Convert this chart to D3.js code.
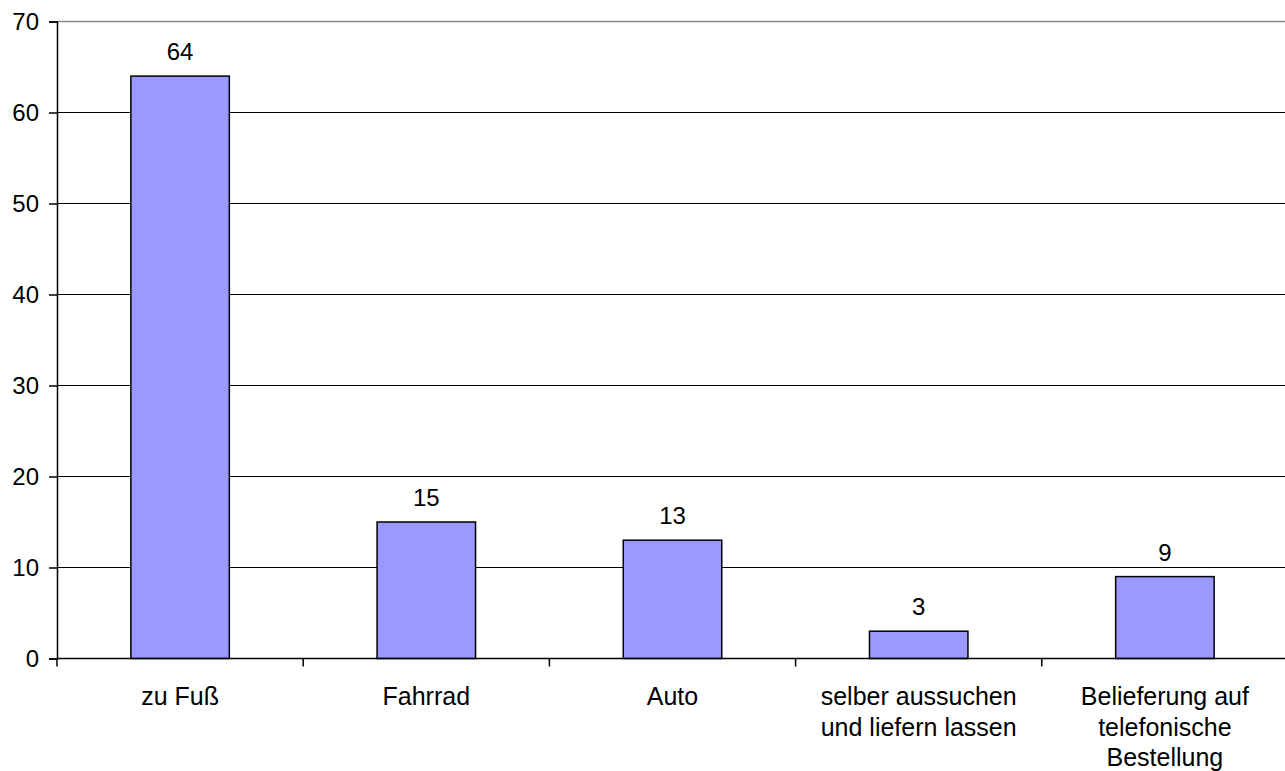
<!DOCTYPE html>
<html>
<head>
<meta charset="utf-8">
<script src="https://cdn.jsdelivr.net/npm/d3@7"></script>
<style>
    body { margin: 0; background: #fff; }
    text { font-family: "Liberation Sans", Arial, sans-serif; fill: #000; }
</style>
</head>
<body>
<div id="chart"></div>
<script>
// data
var categories = ["zu Fuß", "Fahrrad", "Auto", "selber aussuchen\nund liefern lassen", "Belieferung auf\ntelefonische\nBestellung"];
var values = [64, 15, 13, 3, 9];
var yTicks = [0, 10, 20, 30, 40, 50, 60, 70];

var width = 1285, height = 771;
var margin = { top: 21.5, left: 57, bottom: 658.5, right: 1288 };

var svg = d3.select("#chart")
    .append("svg")
    .attr("width", width)
    .attr("height", height);

var x = d3.scaleBand()
    .domain(categories)
    .range([margin.left, margin.right])
    .paddingInner(0.6)
    .paddingOuter(0.3);

var y = d3.scaleLinear()
    .domain([0, 70])
    .range([margin.bottom, margin.top]);

// gridlines (top one is softer grey in the original)
svg.append("g")
    .selectAll("line")
    .data(yTicks.filter(function (d) { return d > 0; }))
    .enter()
    .append("line")
    .attr("x1", margin.left)
    .attr("x2", width)
    .attr("y1", function (d) { return y(d); })
    .attr("y2", function (d) { return y(d); })
    .attr("stroke", function (d) { return d == 70 ? "#8a8a8a" : "#000"; })
    .attr("stroke-width", function (d) { return d == 70 ? 1.6 : 1; });

// bars
svg.append("g")
    .selectAll("rect")
    .data(values)
    .enter()
    .append("rect")
    .attr("x", function (d, i) { return x(categories[i]); })
    .attr("y", function (d) { return y(d); })
    .attr("width", x.bandwidth())
    .attr("height", function (d) { return y(0) - y(d); })
    .attr("fill", "#9999FF")
    .attr("stroke", "#000")
    .attr("stroke-width", 1.5);

// value labels
svg.append("g")
    .selectAll("text")
    .data(values)
    .enter()
    .append("text")
    .attr("x", function (d, i) { return x(categories[i]) + x.bandwidth() / 2; })
    .attr("y", function (d) { return y(d) - 16; })
    .attr("text-anchor", "middle")
    .style("font-size", "24px")
    .text(function (d) { return d; });

// y axis
var yAxis = svg.append("g")
    .attr("transform", "translate(" + margin.left + ",0)")
    .call(d3.axisLeft(y).tickValues(yTicks).tickSize(8).tickPadding(10));
yAxis.select(".domain").attr("stroke", "#000").attr("stroke-width", 1.5);
yAxis.selectAll(".tick line").attr("stroke", "#000").attr("stroke-width", 1.5);
yAxis.selectAll(".tick text")
    .style("font-size", "24px")
    .style("font-family", "'Liberation Sans', Arial, sans-serif")
    .attr("fill", "#000");

// x axis line and ticks at the band edges
var step = x.step();
var edges = d3.range(categories.length + 1).map(function (i) { return margin.left + i * step; });
svg.append("line")
    .attr("x1", margin.left)
    .attr("x2", width)
    .attr("y1", y(0))
    .attr("y2", y(0))
    .attr("stroke", "#000")
    .attr("stroke-width", 1.5);
svg.append("g")
    .selectAll("line")
    .data(edges)
    .enter()
    .append("line")
    .attr("x1", function (d) { return d; })
    .attr("x2", function (d) { return d; })
    .attr("y1", y(0))
    .attr("y2", y(0) + 8)
    .attr("stroke", "#000")
    .attr("stroke-width", 1.5);

// category labels
var catText = svg.append("g")
    .selectAll("text")
    .data(categories)
    .enter()
    .append("text")
    .attr("text-anchor", "middle")
    .attr("x", function (d) { return x(d) + x.bandwidth() / 2; })
    .attr("y", 705)
    .style("font-size", "25px");

catText.each(function (d) {
    var t = d3.select(this);
    d.split("\n").forEach(function (line, i) {
        t.append("tspan")
            .attr("x", t.attr("x"))
            .attr("dy", i == 0 ? 0 : 30.5)
            .text(line);
    });
});
</script>
</body>
</html>
